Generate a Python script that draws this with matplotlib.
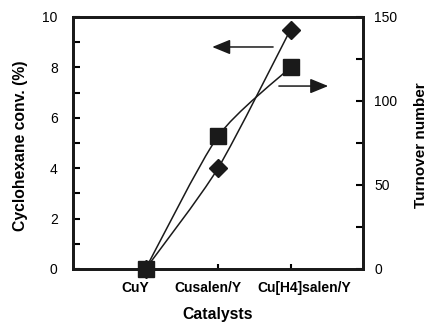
import matplotlib
matplotlib.use("Agg")
import matplotlib.pyplot as plt
import numpy as np
from matplotlib.path import Path
from matplotlib.patches import PathPatch
from matplotlib.transforms import ScaledTranslation

plt.rcParams['font.family'] = ['Liberation Sans', 'DejaVu Sans']

categories = ["CuY", "Cusalen/Y", "Cu[H4]salen/Y"]
conversion = [0.0, 4.0, 9.5]        # % (left axis), diamonds
turnover = [0.0, 79.0, 120.0]       # right axis, squares
left_ticks = [0, 2, 4, 6, 8, 10]
right_ticks = [0, 50, 100, 150]


def smooth_path(xs, ys, t=0.12):
    xs = np.asarray(xs, float); ys = np.asarray(ys, float)
    n = len(xs)
    verts = [(xs[0], ys[0])]
    codes = [Path.MOVETO]
    for i in range(n - 1):
        p0 = i - 1 if i > 0 else i
        p3 = i + 2 if i + 2 < n else i + 1
        d1 = ((xs[i + 1] - xs[p0]) * t, (ys[i + 1] - ys[p0]) * t)
        d2 = ((xs[p3] - xs[i]) * t, (ys[p3] - ys[i]) * t)
        verts += [(xs[i] + d1[0], ys[i] + d1[1]),
                  (xs[i + 1] - d2[0], ys[i + 1] - d2[1]),
                  (xs[i + 1], ys[i + 1])]
        codes += [Path.CURVE4] * 3
    return Path(verts, codes)


fig = plt.figure(figsize=(4.29, 3.23), dpi=100)
ax = fig.add_axes([73 / 429, 1 - 269 / 323, 290 / 429, 252 / 323])
ax2 = ax.twinx()

x = np.arange(1, len(categories) + 1)
c = '#1a1a1a'

ax.add_patch(PathPatch(smooth_path(x, conversion), fill=False, lw=1.1, color=c, zorder=2))
ax.plot(x, conversion, linestyle='none', marker='D', markersize=9.5, color=c, zorder=3, clip_on=False)
ax2.add_patch(PathPatch(smooth_path(x, turnover), fill=False, lw=1.1, color=c, zorder=2))
ax2.plot(x, turnover, linestyle='none', marker='s', markersize=11.5, color=c, zorder=3, clip_on=False)

ax.set_xlim(0, 4)
ax.set_ylim(0, 10)
ax2.set_ylim(0, 150)
ax.set_xticks(x)
ax.set_xticklabels([])
ax.set_yticks(left_ticks)
ax.set_yticks([1, 3, 5, 7, 9], minor=True)
ax2.set_yticks(right_ticks)
ax2.set_yticks([25, 75, 125], minor=True)

# category labels, offset horizontally as in the reference (pixels)
offsets = [-10, -10, 14]
for xi, lab, dx in zip(x, categories, offsets):
    tr = ax.get_xaxis_transform() + ScaledTranslation(dx / 100, -12 / 100, fig.dpi_scale_trans)
    ax.text(xi, 0, lab, transform=tr, ha='center', va='top', fontweight='bold', fontsize=10)

for a in (ax, ax2):
    for s in a.spines.values():
        s.set_linewidth(2.0)
        s.set_color(c)
ax.tick_params(axis='y', which='both', direction='in', length=5, width=1.5, labelsize=10, pad=11)
ax.tick_params(axis='x', which='both', direction='in', length=3.5, width=1.5)
ax2.tick_params(axis='y', which='both', direction='in', length=5, width=1.5, labelsize=10, pad=8)

ax.set_ylabel("Cyclohexane conv. (%)", fontweight='bold', fontsize=11.3)
ax.yaxis.set_label_coords((28 - 73) / 290, 0.49)
ax2.set_ylabel("Turnover number", fontweight='bold', fontsize=11)
ax2.yaxis.set_label_coords((414 - 73) / 290, 0.49)
ax.set_xlabel("Catalysts", fontweight='bold', fontsize=11.3)
ax.xaxis.set_label_coords(0.5, (269 - 307) / 252)

ax.annotate("", xy=(1.92, 8.81), xytext=(2.76, 8.81),
            arrowprops=dict(arrowstyle='-|>,head_length=1.1,head_width=0.45', color=c, lw=1.1,
                            shrinkA=0, shrinkB=0))
ax.annotate("", xy=(3.52, 7.26), xytext=(2.84, 7.26),
            arrowprops=dict(arrowstyle='-|>,head_length=1.1,head_width=0.45', color=c, lw=1.1,
                            shrinkA=0, shrinkB=0))

fig.savefig("out.png", dpi=100)
